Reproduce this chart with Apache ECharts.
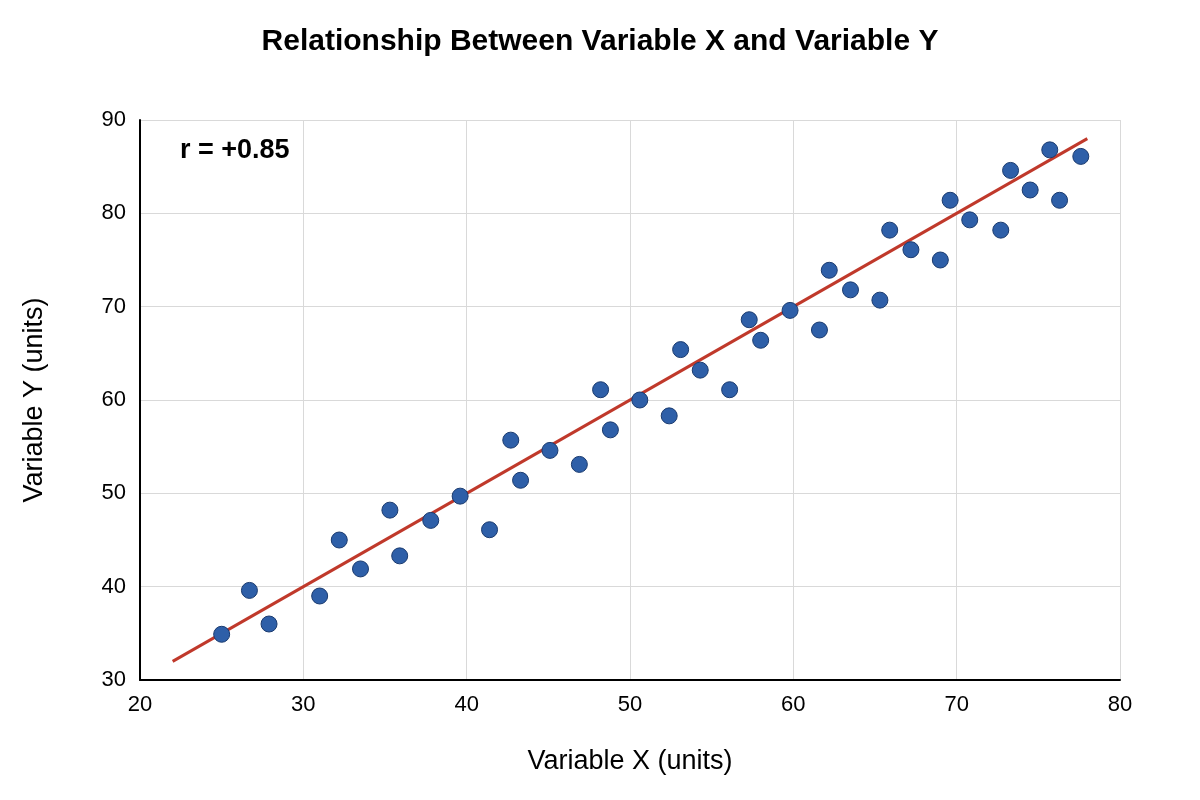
<!DOCTYPE html>
<html>
<head>
<meta charset="utf-8">
<script src="https://cdn.jsdelivr.net/npm/echarts@6/dist/echarts.min.js"></script>
<style>html,body{margin:0;background:#fff}#chart{width:1200px;height:800px}</style>
</head>
<body>
<div id="chart"></div>
<script>
// datos: [x, y]
var puntos = [
  [25.0,34.9],[26.7,39.6],[27.9,36.0],[31.0,39.0],[32.2,45.0],[33.5,41.9],
  [35.3,48.2],[35.9,43.3],[37.8,47.1],[39.6,49.7],[41.4,46.1],[42.7,55.7],
  [43.3,51.4],[45.1,54.6],[46.9,53.1],[48.2,61.1],[48.8,56.8],[50.6,60.0],
  [52.4,58.3],[53.1,65.4],[54.3,63.2],[56.1,61.1],[57.3,68.6],[58.0,66.4],
  [59.8,69.6],[61.6,67.5],[62.2,73.9],[63.5,71.8],[65.3,70.7],[65.9,78.2],
  [67.2,76.1],[69.0,75.0],[69.6,81.4],[70.8,79.3],[72.7,78.2],[73.3,84.6],
  [74.5,82.5],[75.7,86.8],[76.3,81.4],[77.6,86.1]
];
// recta de ajuste
var recta = [[22,32],[78,88]];

var chart = echarts.init(document.getElementById('chart'));
var fuente = 'Liberation Sans, Arial, sans-serif';
chart.setOption({
  animation: false,
  title: {
    text: 'Relationship Between Variable X and Variable Y',
    left: 'center', top: 22,
    textStyle: {fontFamily: fuente, fontSize: 30, fontWeight: 'bold', color: '#000'}
  },
  grid: {left: 140, right: 80, top: 120, bottom: 120},
  xAxis: {
    type: 'value', min: 20, max: 80, interval: 10,
    name: 'Variable X (units)', nameLocation: 'middle', nameGap: 68,
    nameTextStyle: {fontFamily: fuente, fontSize: 27, color: '#000'},
    axisLine: {lineStyle: {color: '#000', width: 2}},
    axisTick: {show: false},
    axisLabel: {fontFamily: fuente, fontSize: 22, color: '#000', margin: 14},
    splitLine: {lineStyle: {color: '#d9d9d9', width: 1}}
  },
  yAxis: {
    type: 'value', min: 30, max: 90, interval: 10,
    name: 'Variable Y (units)', nameLocation: 'middle', nameGap: 92,
    nameTextStyle: {fontFamily: fuente, fontSize: 27, color: '#000'},
    axisLine: {show: true, lineStyle: {color: '#000', width: 2}},
    axisTick: {show: false},
    axisLabel: {fontFamily: fuente, fontSize: 22, color: '#000', margin: 14},
    splitLine: {lineStyle: {color: '#d9d9d9', width: 1}}
  },
  graphic: [{
    type: 'text', left: 180, top: 137,
    style: {text: 'r = +0.85', font: 'bold 27px ' + fuente, fill: '#000'}
  }],
  series: [
    {
      type: 'line', data: recta, symbol: 'none', z: 2,
      lineStyle: {color: '#c0392b', width: 3}
    },
    {
      type: 'scatter', data: puntos, symbolSize: 16, z: 3,
      itemStyle: {color: '#2e5fa8', borderColor: '#1a3a6e', borderWidth: 1, opacity: 1}
    }
  ]
});
</script>
</body>
</html>
